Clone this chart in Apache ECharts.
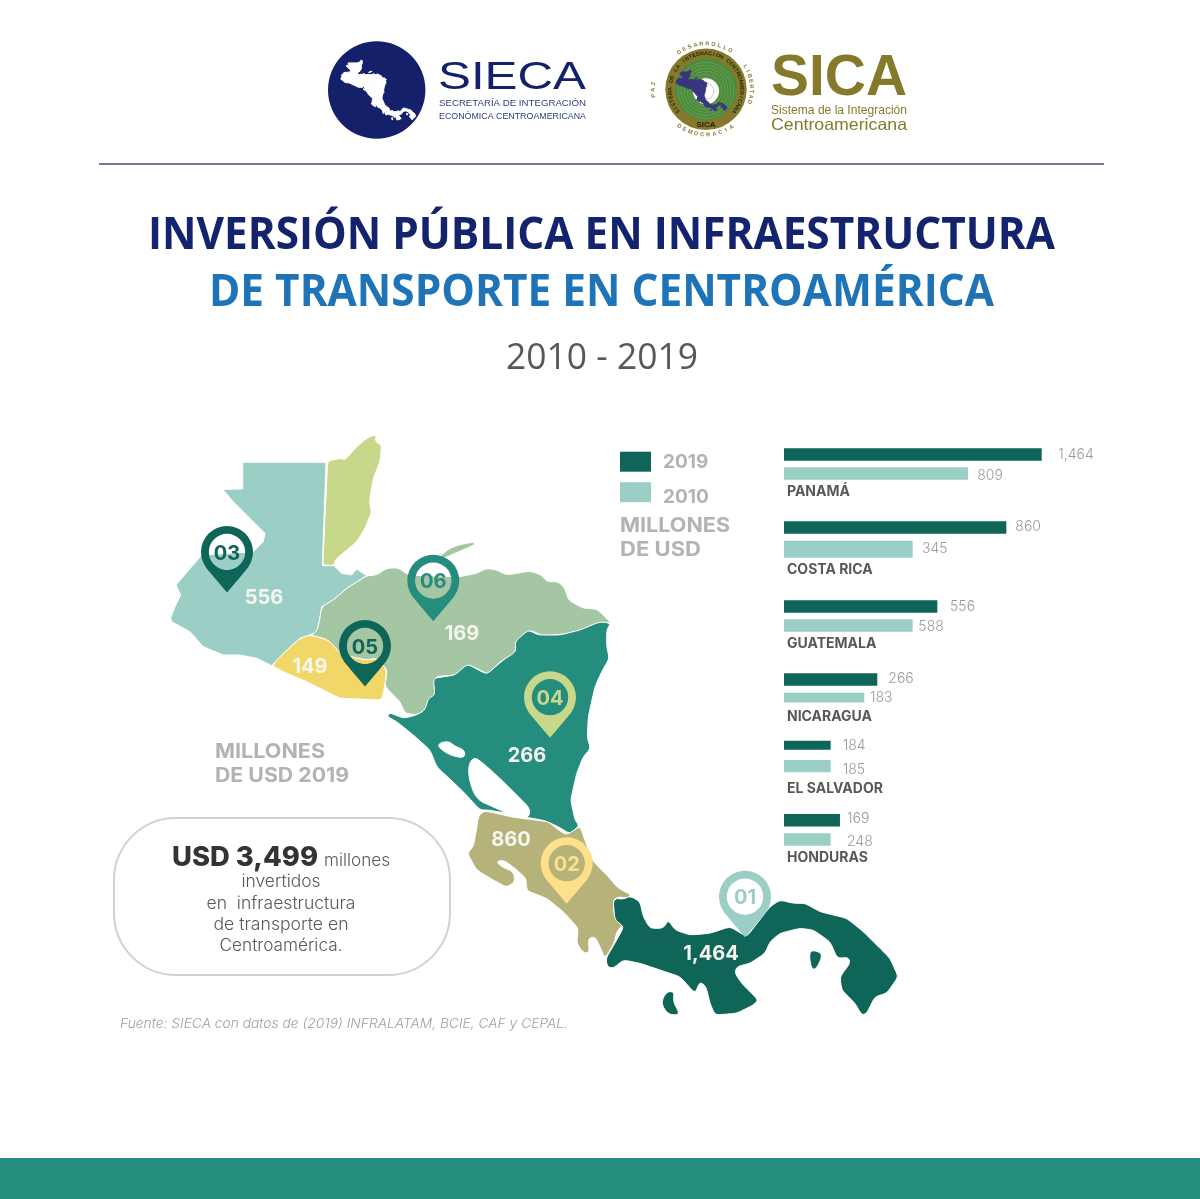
<!DOCTYPE html>
<html>
<head>
<meta charset="utf-8">
<style>html,body{margin:0;padding:0;background:#fff}#chart{width:1200px;height:1199px}</style>
<script src="https://cdn.jsdelivr.net/npm/echarts@6/dist/echarts.min.js"></script>
</head>
<body>
<div id="chart"></div>
<script>
// bars, top to bottom
const categories = ['PANAMÁ', 'COSTA RICA', 'GUATEMALA', 'NICARAGUA', 'EL SALVADOR', 'HONDURAS']
const printed2019 = [1464, 860, 556, 266, 184, 169]
const printed2010 = [809, 345, 588, 183, 185, 248]
// the source bars are not proportional to their printed numbers, so the lengths
// are read from the picture separately (in units of the top bar = 1464)
const drawn2019 = [1464, 1263, 871, 530, 265, 318]
const drawn2010 = [1045, 731, 731, 456, 265, 265]

// map labels
const mapCountries = ['Belice', 'Guatemala', 'Honduras', 'El Salvador', 'Nicaragua', 'Costa Rica', 'Panamá']
const mapValues = [null, 556, 169, 149, 266, 860, 1464]
const mapColors = ['#c8d88a', '#9bcec5', '#a5c6a2', '#f1d668', '#258d7d', '#b5b27a', '#0e6558']
const mapLabelAt = [null, [264, 597.5], [462, 633.5], [310, 666.5], [527, 755.5], [511, 839.5], [711, 953.5]]

// layout of the irregular bar rows: [top, height] per bar
const rows2019 = [[448.3, 12.4], [521.3, 12.4], [600.3, 12.4], [673.3, 12.4], [740.7, 9], [814, 12.4]]
const rows2010 = [[467.3, 12.4], [540.7, 17], [619.3, 12.4], [692.7, 9.7], [760, 12.3], [833.3, 12.4]]
const gap2019 = [16.6, 9, 12.7, 11, 12, 7]
const gap2010 = [9.3, 9.3, 5.7, 5.7, 12, 16.3]
const nudge2019 = [0, -0.5, 0.5, -1, 0.5, -1.5]
const nudge2010 = [2, 0, 1.5, 0.5, 3.2, 2.5]
const nameY = [492, 569.5, 643.5, 717, 789, 857.5]

// outlines, in page pixels
const outlines = {
  'Belice': [[[327.7,461],[340,458.3],[345,460],[356.7,446.7],[366.7,438.3],[376.7,434],[375,441.7],[381.7,445],[380,461.7],[373.3,478.3],[369.3,501.7],[371.7,511.7],[365,528.3],[356.7,541.7],[346.7,550],[335,560],[334,565.7],[322.7,565]]],
  'Guatemala': [[[242.7,462.3],[326,462.3],[322.3,565.7],[334,565.7],[341.7,573.3],[351.7,575],[356.7,569],[366.7,575.7],[346.7,588.3],[333.3,600],[321.7,606.7],[319.3,621.7],[316.7,631.7],[310,635],[300,638.3],[285,651.7],[271.7,665.7],[256.7,658.3],[240,655],[223.3,655],[203.3,646.7],[190,631.7],[171.7,621.7],[170.7,617.7],[175,606.7],[180.7,595],[176,585],[201.7,555],[253.3,551.7],[263.3,541.7],[265,533.3],[253.3,521.7],[243.3,511.7],[233.3,501.7],[222.7,489.3],[242.7,489]]],
  'Honduras': [[[366.7,575.7],[376.7,575],[386.7,568.3],[398.3,567.7],[408.3,575],[460,576.7],[476.7,573.3],[486.7,568.3],[496.7,570],[506.7,575],[530,571],[541.7,575],[546.7,581.7],[558.3,581.7],[565,588.3],[568.3,600],[583.3,608.3],[596.7,609],[603.3,615],[611.7,624],[601.7,621.7],[590,626.7],[570,633.3],[543.3,636],[530,630],[516.7,641.7],[515,653.3],[500,661.7],[488.3,674.3],[468.3,664.3],[456.7,675],[435,676.7],[436.7,691.7],[428.3,708.3],[416.7,715],[405,713.3],[400,701.7],[388.3,690],[385,685],[387.3,670],[376.7,658.3],[366.7,660],[341.7,655],[330,641.7],[323.3,638.3],[310,635],[316.7,631.7],[319.3,621.7],[321.7,606.7],[333.3,600],[346.7,588.3]],
    [[441,556],[452,547],[472,542.5],[474,545],[455,553],[444,558]]],
  'El Salvador': [[[310,635],[323.3,638.3],[330,641.7],[341.7,655],[366.7,660],[376.7,658.3],[386.7,670],[385,685],[381.7,700],[360,699],[340,698.3],[326.7,691.7],[306.7,681.7],[286.7,673.3],[271.7,665.7],[285,651.7],[300,638.3]]],
  'Nicaragua': [[[610.7,623.3],[606.7,630],[606.7,646.7],[609.3,658.3],[601.7,671.7],[595,686.7],[588.3,716.7],[587.3,738.3],[590.7,748.3],[583.3,756.7],[576.7,773.3],[570.7,800],[575,820],[579.3,826],[570,834],[558.3,826.7],[545,820.7],[526.7,817.3],[506.7,813.3],[488.3,810],[480,810],[463.3,791.7],[436.7,766.7],[430,750],[413.3,735],[396.7,721.7],[386.7,716],[390,712.7],[403.3,718.3],[416.7,715],[425,710],[428.3,698.3],[435,695],[433.3,678.3],[455,675],[467.3,664],[486.7,674.3],[503.3,660],[516,651.7],[515,641.7],[528.3,630],[538.3,635],[560,635],[580,630],[600,621.7]]],
  'Costa Rica': [[[483.3,811],[493.3,812.7],[513.3,817.3],[535,820],[548.3,821.7],[558.3,830],[566.7,835],[580,826],[586,843.3],[593.3,861.7],[606.7,875],[618.3,888.3],[631.7,895],[626.7,898.3],[618.3,896.7],[613.3,900],[614,915],[624,923.3],[616.7,931.7],[614,943.3],[605,958.3],[600,946.7],[595,936.7],[588.3,938.3],[589.3,952.7],[583.3,952.7],[576.7,943.3],[578.3,928.3],[563.3,911.7],[546.7,898.3],[526.7,890.7],[526,878.3],[515,868.3],[503.3,860],[496,861.7],[501.7,866.7],[513.3,871.7],[515,881.7],[506.7,887.3],[493.3,880],[476.7,870],[467.3,853.3],[473.3,846.7],[476.7,828.3],[478.3,816.7]]],
  'Panamá': [[[615,898.3],[623.3,899.3],[630,896],[640,901.7],[643.3,916.7],[650,928.3],[663.3,928.3],[668.3,920],[675,930],[690,935],[710,933.3],[730,926.7],[746.7,936.7],[770,906.7],[780,900],[793.3,903.3],[805,903.3],[820,911.7],[846.7,918.3],[863.3,931.7],[880,948.3],[890,958.3],[898.3,976.7],[886.7,993.3],[875,996.7],[866.7,1013.3],[861.7,1015],[855,1003.3],[841.7,990],[840,976.7],[850,963.3],[848.3,957.3],[837.3,958.3],[830,941.7],[813.3,930],[800,928.3],[780,933.3],[770,941.7],[765,953.3],[750,963.3],[736.7,966.7],[735,973.3],[741.7,983.3],[758.3,1000],[753.3,1005],[736.7,1013.3],[715,1015],[710,1003.3],[706,986.7],[700,981.7],[695,993.3],[680,976.7],[660,970],[640,963.3],[623.3,960],[613.3,968.3],[607.3,966.7],[606,958.3],[616.7,940],[624,926.7],[615,920],[613.3,903.3]],
    [[667,993],[674,993],[673,1002],[678,1011],[677,1014],[668,1013],[662,1003]],
    [[811,951],[820,953],[821,958],[816,968],[812,968],[810,958]]]
}
const lakes = [
  [[438.3,745],[448.3,741.7],[455,746.7],[463.3,750],[463.3,756.7],[455,756],[445,751.7]],
  [[476.7,760.7],[483.3,765],[500,780],[516.7,796.7],[526.7,806.7],[525,815],[513.3,814],[493.3,805],[478.3,798.3],[471.7,780],[471.7,766.7]]
]

// pins: label, centre x, centre y, colour
const pins = [
  ['01', 745, 896.7, '#9bcec5'],
  ['02', 566.7, 863.3, '#ffe08a'],
  ['03', 227, 552, '#0e6558'],
  ['04', 550, 697.3, '#c8d88a'],
  ['05', 365, 646, '#0e6558'],
  ['06', 433.3, 580.7, '#258d7d']
]

const DARK = '#0e6558'
const LIGHT = '#9bcec5'
const measure = document.createElement('canvas').getContext('2d')

function label(text, x, y, font, fill, align, width) {
  let scaleX = 1
  if (width) {
    measure.font = font
    scaleX = width / measure.measureText(text).width
  }
  return { type: 'text', x, y, scaleX, z: 30, silent: true,
    style: { text, font, fill, align: align || 'left', verticalAlign: 'middle' } }
}

// letters set one by one along a circle; degrees run clockwise from the top
function arcText(text, cx, cy, r, from, to, font, fill, flip) {
  const chars = text.split('')
  return chars.map((c, i) => {
    const deg = from + (to - from) * i / (chars.length - 1)
    const a = deg * Math.PI / 180
    const el = label(c, cx + r * Math.sin(a), cy - r * Math.cos(a), font, fill, 'center')
    el.rotation = flip ? Math.PI - a : -a
    return el
  })
}

// round the traced corners so the coast does not look faceted; small rings
// (islands, lakes) are blown up a little first since rounding eats into them
function soften(ring) {
  const small = ring.length < 12
  let pts = ring
  if (small) {
    const cx = ring.reduce((s, p) => s + p[0], 0) / ring.length
    const cy = ring.reduce((s, p) => s + p[1], 0) / ring.length
    pts = ring.map(p => [cx + (p[0] - cx) * 1.12, cy + (p[1] - cy) * 1.12])
  }
  for (let k = 0; k < 2; k++) {
    const out = []
    pts.forEach((p, i) => {
      const q = pts[(i + 1) % pts.length]
      const len = Math.hypot(q[0] - p[0], q[1] - p[1]) || 1
      const t = small ? 0.25 : Math.min(0.25, 2.2 / len)
      out.push([p[0] + (q[0] - p[0]) * t, p[1] + (q[1] - p[1]) * t])
      out.push([q[0] - (q[0] - p[0]) * t, q[1] - (q[1] - p[1]) * t])
    })
    pts = out
  }
  return pts
}

const flipRing = (ring, sharp) => (sharp ? ring : soften(ring)).map(p => [p[0], -p[1]])
const features = mapCountries.map((name, i) => {
  const at = mapLabelAt[i]
  const sharp = name === 'Guatemala'
  return {
    type: 'Feature',
    properties: { name, cp: at ? [at[0], -at[1]] : undefined },
    geometry: { type: 'MultiPolygon', coordinates: outlines[name].map(r => [flipRing(r, sharp)]) }
  }
})
features.push({
  type: 'Feature',
  properties: { name: 'Lagos' },
  geometry: { type: 'MultiPolygon', coordinates: lakes.map(r => [flipRing(r)]) }
})
echarts.registerMap('centroamerica', { type: 'FeatureCollection', features })

const mapData = mapCountries.map((name, i) => ({
  name,
  value: mapValues[i],
  itemStyle: { areaColor: mapColors[i] },
  label: { show: mapValues[i] !== null }
}))
mapData.push({ name: 'Lagos', value: null, itemStyle: { areaColor: '#fff', borderColor: '#fff' }, label: { show: false } })

// twelve one-bar grids, because the rows are unevenly spaced and sized
const grid = [], xAxis = [], yAxis = [], barSeries = []
function addBar(name, color, row, drawn, printed, gap, nudge) {
  const idx = grid.length
  grid.push({ left: 784, width: 257.7, top: row[0], height: row[1] })
  xAxis.push({ gridIndex: idx, type: 'value', min: 0, max: 1464, show: false })
  yAxis.push({ gridIndex: idx, type: 'category', data: [name], show: false })
  barSeries.push({
    type: 'bar', name, xAxisIndex: idx, yAxisIndex: idx, barWidth: '100%', silent: true,
    itemStyle: { color },
    data: [drawn],
    label: {
      show: true, position: 'right', distance: gap, offset: [0, nudge],
      formatter: () => printed.toLocaleString('en-US'),
      fontFamily: 'Inter', fontWeight: 300, fontSize: 14, color: '#9a9a9a'
    }
  })
}
categories.forEach((c, i) => {
  addBar('2019', DARK, rows2019[i], drawn2019[i], printed2019[i], gap2019[i], nudge2019[i])
  addBar('2010', LIGHT, rows2010[i], drawn2010[i], printed2010[i], gap2010[i], nudge2010[i])
})

function pin(p) {
  const [text, x, y, color] = p
  const R = 26, r = 18.2, tip = 40.5
  const arc = []
  for (let d = 35; d <= 145; d += 5) {
    const a = d * Math.PI / 180
    arc.push([r * Math.cos(a), r * Math.sin(a)])
  }
  return { type: 'group', x, y, z: 20, silent: true, children: [
    { type: 'ring', z: 20, shape: { cx: 0, cy: 0, r: R, r0: r }, style: { fill: color } },
    { type: 'polygon', z: 20, shape: { points: [[-21.3, 15], [-14, 24], [0, tip], [14, 24], [21.3, 15]].concat(arc) }, style: { fill: color } },
    label(text, 0, 1.5, '700 20px Inter', color, 'center')
  ] }
}

function miniMap(x, y, scale, fill) {
  const children = []
  Object.keys(outlines).forEach(k => {
    outlines[k].forEach(ring => children.push({
      type: 'polygon', z: 25, shape: { points: ring }, style: { fill, stroke: fill, lineWidth: 1 / scale }
    }))
  })
  return { type: 'group', x, y, scaleX: scale, scaleY: scale, silent: true, children }
}

const circle = (cx, cy, r, fill, stroke, lw, z) => ({
  type: 'circle', z: z || 10, silent: true, shape: { cx, cy, r },
  style: { fill: fill || 'transparent', stroke, lineWidth: lw || 0 }
})

const sealX = 706, sealY = 89.3
const sealRings = [13, 16, 19, 22, 25, 28].map(r => circle(sealX, sealY + 1, r, null, '#6ba35a', 0.8, 12))

const graphics = [
  // header
  circle(376.7, 90, 48.7, '#14206a'),
  miniMap(323.2, 15.3, 0.103, '#fff'),
  label('SIECA', 438, 78, '400 39px "Liberation Sans"', '#14206a', 'left', 148),
  label('SECRETARÍA DE INTEGRACIÓN', 439, 103, '400 9.5px "Liberation Sans"', '#2f3d7c', 'left', 147),
  label('ECONÓMICA CENTROAMERICANA', 439, 116, '400 9.5px "Liberation Sans"', '#2f3d7c', 'left', 147),
  circle(sealX, sealY, 40.7, '#857a2b'),
  circle(sealX, sealY, 31, '#4d8a3c', null, 0, 11),
  ...sealRings,
  circle(sealX, sealY + 2, 13, '#fff', null, 0, 13),
  circle(sealX, sealY + 2, 8, null, '#b9b9b9', 0.8, 14),
  miniMap(664.1, 39.6, 0.07, '#3a3580'),
  ...arcText('SISTEMA DE LA INTEGRACION CENTROAMERICANA', sealX, sealY, 35.8, -128, 128, '700 5.4px "Liberation Sans"', '#2b2a10'),
  label('SICA', sealX, sealY + 35.5, '700 8px "Liberation Sans"', '#1f1f10', 'center'),
  ...arcText('DESARROLLO', sealX, sealY, 45.5, -36, 32, '700 5.6px "Liberation Sans"', '#857a2b'),
  ...arcText('LIBERTAD', sealX, sealY, 45.5, 60, 106, '700 5.6px "Liberation Sans"', '#857a2b'),
  ...arcText('DEMOCRACIA', sealX, sealY, 45.5, 216, 146, '700 5.6px "Liberation Sans"', '#857a2b', true),
  ...arcText('PAZ', sealX, sealY, 53, -97, -84, '700 5.6px "Liberation Sans"', '#857a2b'),
  label('SICA', 771, 79, '700 58px "Liberation Sans"', '#857a2b', 'left', 136),
  label('Sistema de la Integración', 771, 111, '400 12px "Liberation Sans"', '#857a2b', 'left', 136),
  label('Centroamericana', 771, 125, '400 16.5px "Liberation Sans"', '#857a2b', 'left', 136),
  { type: 'line', silent: true, shape: { x1: 99, y1: 164, x2: 1104, y2: 164 }, style: { stroke: '#4a4a70', lineWidth: 1.4 } },

  // titles
  label('INVERSIÓN PÚBLICA EN INFRAESTRUCTURA', 601.5, 236, '700 45px "Open Sans"', '#14236e', 'center', 907),
  label('DE TRANSPORTE EN CENTROAMÉRICA', 601.5, 293, '700 45px "Open Sans"', '#1f73b7', 'center', 785),
  label('2010 - 2019', 602, 358.5, '400 36px "Open Sans"', '#58585a', 'center', 192),

  // notes
  label('MILLONES', 620, 526, '700 20px Inter', '#b3b3b3', 'left', 110),
  label('DE USD', 620, 550, '700 20px Inter', '#b3b3b3', 'left', 81),
  label('MILLONES', 215, 752, '700 20px Inter', '#b3b3b3', 'left', 110),
  label('DE USD 2019', 215, 776, '700 20px Inter', '#b3b3b3', 'left', 134),
  { type: 'rect', silent: true, shape: { x: 114, y: 818, width: 336, height: 157, r: 62 }, style: { fill: '#fff', stroke: '#d2d2d2', lineWidth: 2 } },
  label('USD 3,499', 172, 857.5, '800 27px Inter', '#333333', 'left', 146),
  label('millones', 324, 861, '300 17px Inter', '#58585a', 'left', 66),
  label('invertidos', 281, 882, '300 17px Inter', '#58585a', 'center', 79),
  label('en  infraestructura', 281, 903.5, '300 17px Inter', '#58585a', 'center', 149),
  label('de transporte en', 281, 925, '300 17px Inter', '#58585a', 'center', 135),
  label('Centroamérica.', 281, 946, '300 17px Inter', '#58585a', 'center', 123),
  label('Fuente: SIECA con datos de (2019) INFRALATAM, BCIE, CAF y CEPAL.', 120, 1024, 'italic 300 13px Inter', '#9f9f9f', 'left', 448),

  { type: 'rect', silent: true, shape: { x: 0, y: 1158, width: 1200, height: 41 }, style: { fill: '#258d7d' } },
  ...categories.map((c, i) => label(c, 787, nameY[i], '700 14px Inter', '#58585a')),
  ...pins.map(pin)
]

const legendFont = { fontFamily: 'Inter', fontWeight: 700, fontSize: 19, color: '#b3b3b3' }

const chart = echarts.init(document.getElementById('chart'), null, { renderer: 'canvas' })
chart.setOption({
  animation: false,
  backgroundColor: '#fff',
  legend: {
    left: 620, top: 451.7, padding: 0, orient: 'vertical', itemWidth: 31, itemHeight: 20, itemGap: 10,
    icon: 'rect', selectedMode: false,
    data: ['2019', '2010'],
    // the 2010 caption sits a little below its swatch in the source
    formatter: name => (name === '2010' ? '{low|' + name + '}' : '{high|' + name + '}'),
    textStyle: Object.assign({}, legendFont, {
      rich: {
        high: Object.assign({}, legendFont, { padding: [2, 0, 0, 7] }),
        low: Object.assign({}, legendFont, { padding: [10, 0, 0, 7] })
      }
    })
  },
  grid, xAxis, yAxis,
  graphic: { elements: graphics },
  series: [{
    type: 'map', map: 'centroamerica', silent: true, roam: false, selectedMode: false,
    left: 0, top: 0, width: 1200, height: 1199, aspectScale: 1,
    boundingCoords: [[0, 0], [1200, -1199]],
    showLegendSymbol: false,
    itemStyle: { borderColor: '#fff', borderWidth: 1 },
    label: {
      show: true, fontFamily: 'Inter', fontWeight: 700, fontSize: 20, color: '#f6f6f0',
      formatter: p => (p.value > 0 ? p.value.toLocaleString('en-US') : '')
    },
    emphasis: { disabled: true },
    data: mapData
  }].concat(barSeries)
})
</script>
</body>
</html>
